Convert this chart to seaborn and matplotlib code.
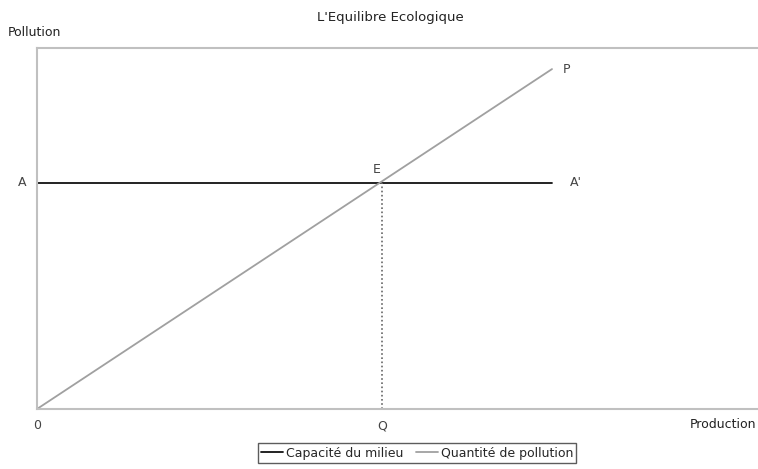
import seaborn as sns
import matplotlib.pyplot as plt
import pandas as pd

# values (arbitrary units, origin = 0)
production = [0, 10]
capacite = [6.65, 6.65]
pollution = [0, 10]
x_equilibre = 6.7
y_equilibre = 6.65
x_max = 14
y_max = 10.62

df = pd.DataFrame({
    "Production": production * 2,
    "Pollution": capacite + pollution,
    "serie": ["Capacité du milieu"] * 2 + ["Quantité de pollution"] * 2,
})

sns.set_style("white")
plt.rcParams["font.family"] = ["DejaVu Sans"]
plt.rcParams["font.size"] = 9

fig = plt.figure(figsize=(7.58, 4.69), dpi=100)
ax = fig.add_axes([37 / 758, 1 - 409 / 469, 1 - 37 / 758, (409 - 48) / 469])

sns.lineplot(data=df, x="Production", y="Pollution", hue="serie",
             palette={"Capacité du milieu": "#111111", "Quantité de pollution": "#a0a0a0"},
             linewidth=1.3, ax=ax)
ax.plot([x_equilibre, x_equilibre], [0, y_equilibre], color="#666666",
        linestyle=(0, (1, 1.5)), linewidth=1.2)

ax.set_xlim(0, x_max)
ax.set_ylim(0, y_max)
ax.set_xticks([])
ax.set_yticks([])
ax.set_xlabel("")
ax.set_ylabel("")
for side in ["left", "bottom", "top"]:
    ax.spines[side].set_color("#c0c0c0")
    ax.spines[side].set_linewidth(1.5)
ax.spines["right"].set_visible(False)

grey = "#444444"
ax.text(0, -0.3, "0", ha="center", va="top", color=grey, fontsize=9)
ax.text(x_equilibre, -0.3, "Q", ha="center", va="top", color=grey, fontsize=9)
ax.text(-0.21, y_equilibre, "A", ha="right", va="center", color=grey, fontsize=9)
ax.text(10.35, y_equilibre, "A'", ha="left", va="center", color=grey, fontsize=9)
ax.text(10.2, 10.0, "P", ha="left", va="center", color=grey, fontsize=9)
ax.text(x_equilibre - 0.1, y_equilibre + 0.2, "E", ha="center", va="bottom", color=grey, fontsize=9)

fig.text(8 / 758, 1 - 32 / 469, "Pollution", ha="left", va="center", fontsize=9, color="#222222")
fig.text(690 / 758, 1 - 424 / 469, "Production", ha="left", va="center", fontsize=9, color="#222222")
fig.text(390 / 758, 1 - 17 / 469, "L'Equilibre Ecologique", ha="center", va="center",
         fontsize=9.5, color="#222222")

leg = ax.legend(loc="center", bbox_to_anchor=(417 / 758, 1 - 453 / 469), bbox_transform=fig.transFigure,
                ncol=2, frameon=True, fancybox=False, handlelength=1.8, handletextpad=0.2,
                columnspacing=1.0, borderpad=0.25, fontsize=9)
leg.get_frame().set_edgecolor("#333333")
leg.get_frame().set_linewidth(1.0)

fig.savefig("out.png", dpi=100)
